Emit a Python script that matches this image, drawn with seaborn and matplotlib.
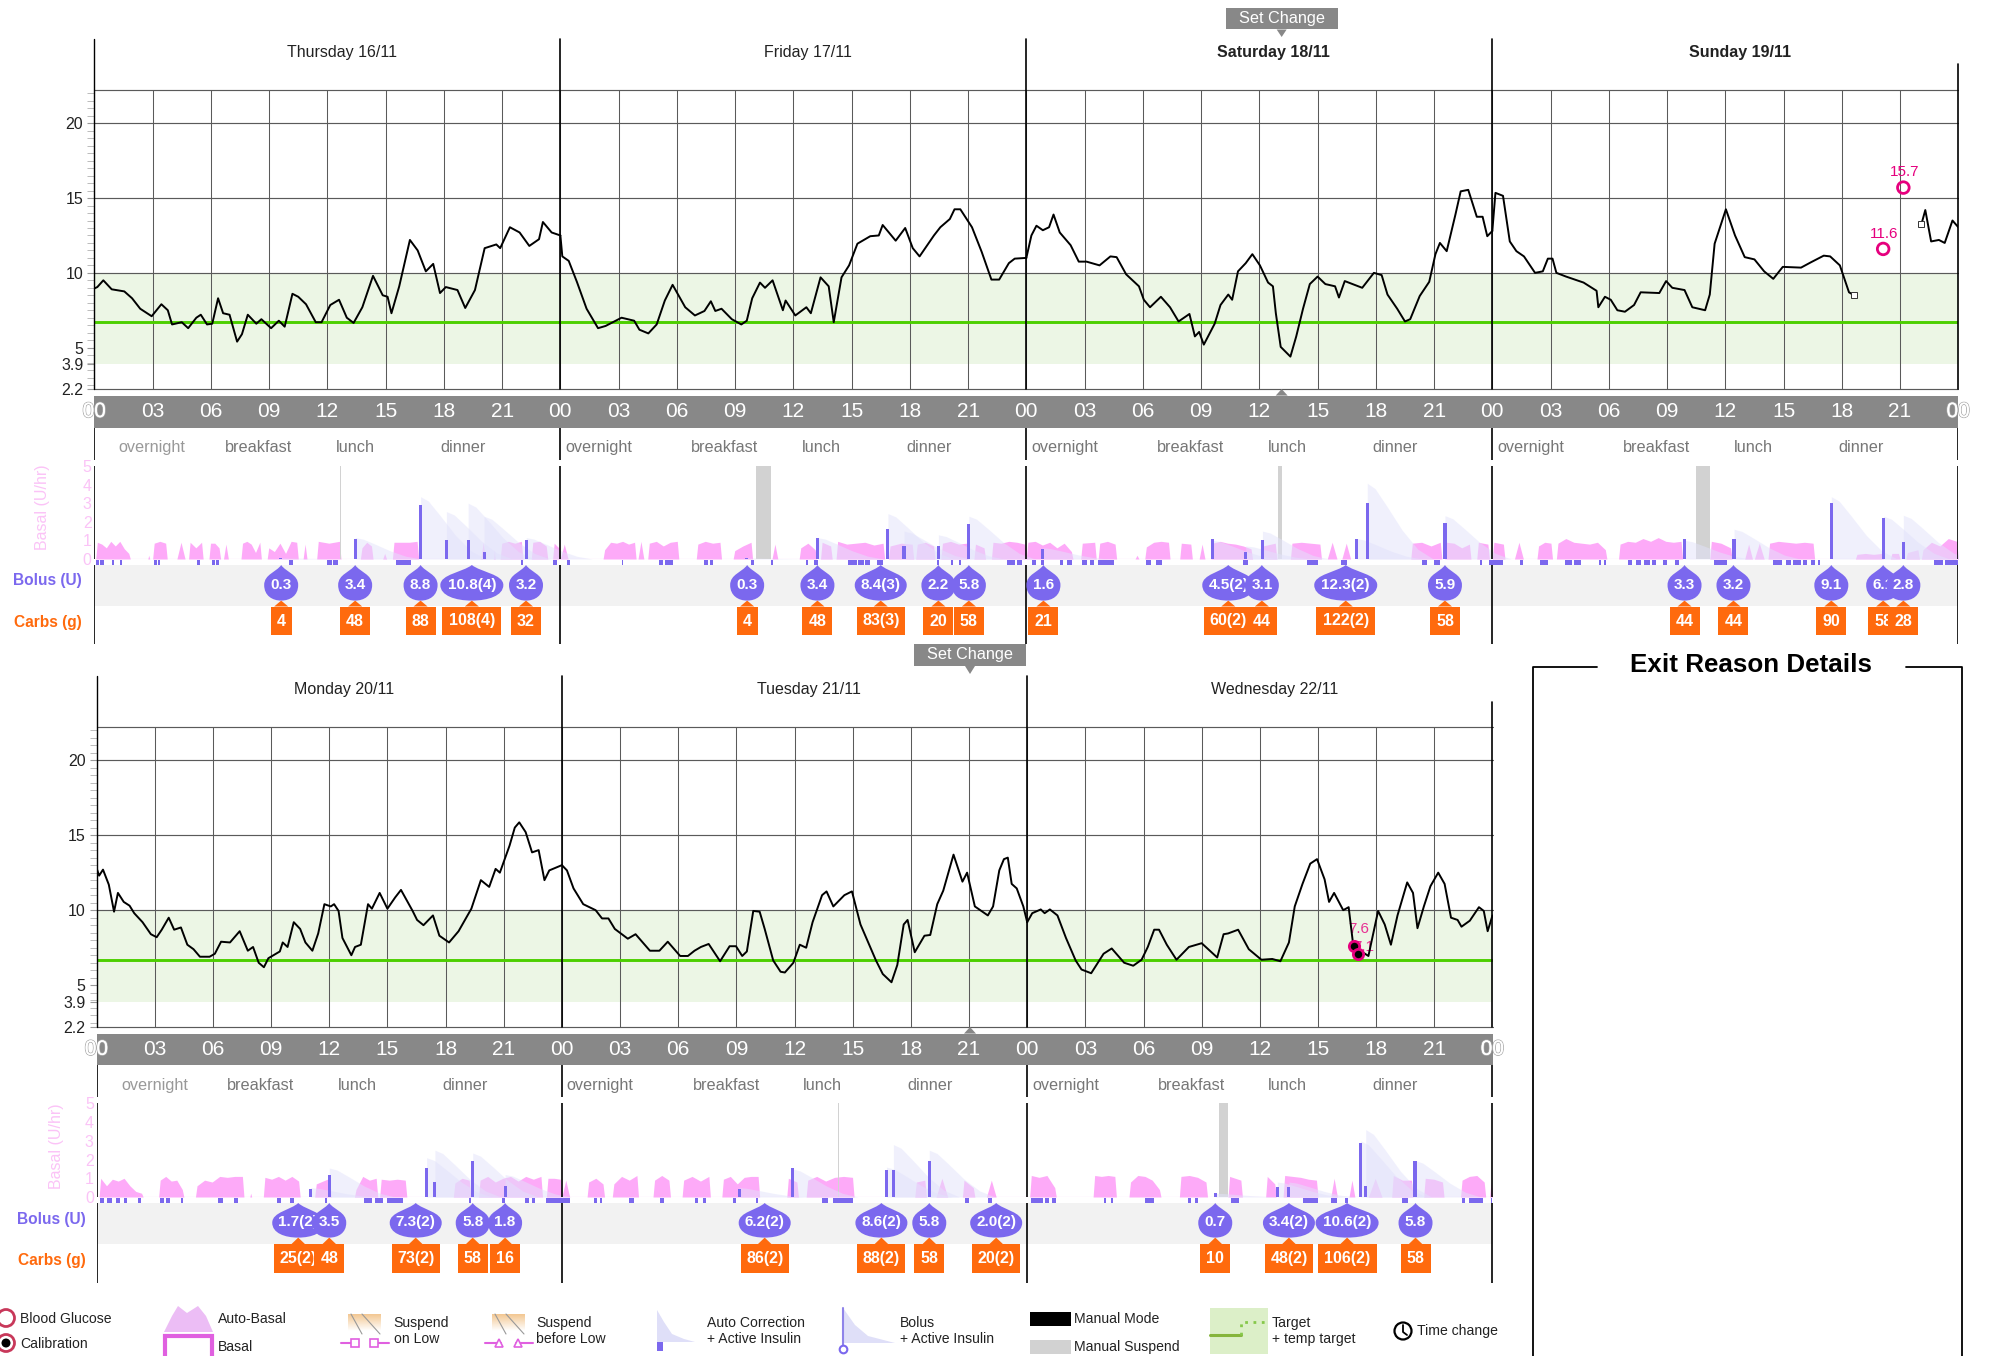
import numpy as np
import pandas as pd
import matplotlib
matplotlib.use("Agg")
import matplotlib.pyplot as plt
from matplotlib.patches import PathPatch, Rectangle, Polygon, Circle
from matplotlib.path import Path
from matplotlib import patheffects as pe
import seaborn as sns

# ------------------------------------------------------------------ data
DAY_NAMES = ["Thursday 16/11", "Friday 17/11", "Saturday 18/11", "Sunday 19/11",
             "Monday 20/11", "Tuesday 21/11", "Wednesday 22/11"]
BOLD_DAYS = ["Saturday 18/11", "Sunday 19/11"]
MEALS = ["overnight", "breakfast", "lunch", "dinner"]
MEAL_HOURS = [1.98, 8.47, 13.44, 19.0]
Y_TICKS = [2.2, 3.9, 5, 10, 15, 20]
Y_TICK_LABELS = ["2.2", "3.9", "5", "10", "15", "20"]
Y_GRID = [2.2, 10, 15, 20, 22.2]
TARGET = 6.7
BAND = (3.9, 10.0)

THU_T = [0,.15,.46,.89,1.54,1.94,2.36,2.95,3.45,3.78,4.0,4.5,4.83,5.25,5.48,5.8,6.07,6.37,6.63,6.96,7.35,7.6,7.9,8.34,8.6,9.1,9.5,9.8,10.2,10.5,10.9,11.4,11.7,12.15,12.6,13.0,13.35,13.8,14.35,14.85,15.1,15.3,15.7,16.25,16.65,17.07,17.45,17.8,18.1,18.7,19.1,19.6,20.1,20.7,20.9,21.4,21.9,22.4,22.9,23.1,23.55,24]
THU_G = [8.96,9.05,9.5,8.9,8.76,8.3,7.6,7.1,7.9,7.5,6.55,6.7,6.3,7.0,7.2,6.55,6.6,8.3,7.3,7.2,5.4,5.9,7.2,6.6,6.9,6.3,6.8,6.4,8.6,8.4,7.9,6.7,6.7,7.85,8.2,7.0,6.65,7.7,9.8,8.5,8.4,7.3,9.1,12.2,11.5,10.1,10.6,8.65,9.05,8.85,7.65,8.85,11.65,11.9,11.65,13.05,12.7,11.8,12.25,13.4,12.7,12.5]
FRI_T = [0,.1,.43,.85,1.35,1.94,2.33,3.15,3.8,4.07,4.53,4.96,5.38,5.78,6.43,6.93,7.42,7.75,7.98,8.3,8.83,9.32,9.6,9.88,10.28,10.54,10.93,11.46,11.6,12.1,12.67,12.9,13.4,13.82,14.08,14.48,14.87,15.3,15.96,16.4,16.6,17.27,17.76,18.15,18.5,19.24,19.57,20.06,20.3,20.6,21.2,21.7,22.2,22.6,23.1,23.4,24]
FRI_G = [12.5,11.1,10.8,9.4,7.6,6.3,6.45,7.0,6.8,6.2,5.95,6.55,8.15,9.2,7.7,7.15,7.45,8.1,7.45,7.6,6.9,6.55,6.8,8.3,9.35,9.0,9.5,7.5,8.15,7.15,7.7,7.3,9.7,9.1,6.7,9.7,10.5,11.95,12.45,12.5,13.2,12.15,13.0,11.65,11.1,12.5,13.05,13.6,14.25,14.25,13.05,11.4,9.55,9.55,10.65,10.95,11.0]
SAT_T = [0,.26,.52,.85,1.17,1.4,1.72,2.28,2.7,3.1,3.77,4.33,4.65,5.14,5.8,6.05,6.37,6.93,7.4,7.84,8.4,8.68,8.9,9.14,9.7,10.0,10.4,10.6,10.9,11.3,11.64,12.03,12.45,12.7,12.85,13.1,13.6,13.9,14.25,14.6,15.0,15.4,15.9,16.1,16.4,17.3,17.9,18.3,18.6,19.1,19.5,19.77,20.26,20.75,21.07,21.3,21.65,22.1,22.37,22.76,23.2,23.5,23.74,24]
SAT_G = [11.0,12.5,13.15,12.85,13.05,13.9,12.7,11.85,10.75,10.75,10.5,11.1,11.05,9.9,9.1,8.2,7.7,8.4,7.7,6.75,7.25,5.75,6.05,5.2,6.6,7.85,8.55,8.2,10.1,10.65,11.25,10.5,9.35,9.1,7.3,5.05,4.4,5.75,7.6,9.25,9.75,9.25,9.1,8.35,9.45,9.0,10.0,9.85,8.55,7.6,6.75,6.9,8.45,9.4,11.25,12.0,11.45,13.9,15.45,15.55,13.75,13.75,12.45,12.8]
SUN_T = [0,.16,.55,.9,1.24,1.63,2.2,2.6,2.86,3.1,3.3,3.8,4.7,5.37,5.46,5.8,6.1,6.44,6.83,7.3,7.64,8.6,8.95,9.27,9.9,10.3,10.96,11.2,11.45,12.03,12.5,13.0,13.5,14.0,14.47,14.96,15.9,16.4,17.07,17.4,17.9,18.37,18.63]
SUN_G = [12.8,15.35,15.15,12.1,11.45,11.1,10.0,10.1,10.95,10.95,10.0,9.75,9.35,8.8,7.7,8.4,8.2,7.5,7.4,7.85,8.7,8.65,9.45,9.0,8.85,7.7,7.5,8.55,11.95,14.25,12.5,11.05,10.9,10.1,9.6,10.4,10.35,10.7,11.15,11.1,10.5,8.7,8.5]
SUN2_T = [22.1,22.3,22.6,23.0,23.3,23.7,24]
SUN2_G = [13.25,14.2,12.1,12.2,12.0,13.5,13.05]
MON_T = [0,.13,.33,.63,.9,1.1,1.4,1.7,1.94,2.37,2.8,3.1,3.36,3.72,4.0,4.35,4.68,5.0,5.33,5.83,6.1,6.42,6.88,7.38,7.8,8.07,8.36,8.63,8.86,9.45,9.6,9.85,10.17,10.5,10.77,11.13,11.43,11.75,12.08,12.25,12.48,12.68,13.14,13.33,13.63,14,14.2,14.6,15,15.4,15.7,16.3,16.53,16.86,17.35,17.68,18.18,18.67,19.33,19.82,20.25,20.58,20.8,21.3,21.57,21.8,22.13,22.46,22.8,23.1,23.35,24]
MON_G = [12.8,12.3,12.7,11.7,9.9,11.15,10.55,10.3,9.8,9.2,8.4,8.2,8.7,9.5,8.7,8.85,7.7,7.4,6.9,6.9,7.1,7.9,7.85,8.6,7.3,7.55,6.5,6.2,6.8,7.25,7.85,7.55,9.2,8.75,7.85,7.3,8.45,10.4,10.25,10.4,9.95,8.15,7.0,7.55,7.7,10.4,10.1,11.15,10.1,10.85,11.35,9.95,9.35,9.0,9.65,8.3,7.85,8.6,10.1,12.0,11.55,12.75,12.5,14.3,15.5,15.85,15.2,13.85,14.0,12.0,12.65,13.0]
TUE_T = [0,.26,.6,1.1,1.74,2.07,2.4,2.73,3.4,3.8,4.54,5.03,5.46,6.1,6.5,6.84,7.17,7.57,8.16,8.65,8.98,9.3,9.54,9.87,10.2,10.46,10.9,11.28,11.5,11.94,12.27,12.6,12.93,13.42,13.65,14.0,14.57,14.96,15.4,15.9,16.2,16.55,17,17.3,17.63,17.83,18.2,18.7,19.0,19.36,19.67,20.2,20.66,20.9,21.3,21.97,22.24,22.56,22.8,23,23.2,23.46,23.8,24]
TUE_G = [13,12.65,11.45,10.4,10,9.45,9.45,8.75,8.1,8.4,7.3,7.3,7.9,6.95,6.95,7.3,7.55,7.75,6.6,7.6,7.6,6.95,7.25,9.95,9.9,8.75,6.65,5.9,5.85,6.5,7.7,7.5,9.2,11.0,11.25,10.25,11.0,11.25,9.05,7.55,6.65,5.75,5.2,6.35,9.05,9.35,7.2,8.3,8.35,10.4,11.3,13.7,11.9,12.5,10.25,9.65,10.25,12.65,13.4,13.5,11.75,11.45,10.25,9.2]
WED_T = [0,.26,.7,.9,1.17,1.56,2,2.5,2.8,3.3,3.94,4.36,5,5.47,5.9,6.22,6.55,6.8,7.2,7.7,8.34,9,9.8,10.13,10.36,10.88,11.43,12.08,12.64,13.06,13.5,13.8,14.2,14.6,14.95,15.34,15.57,15.83,16.3,16.58,16.8,17.07,17.3,17.6,17.8,18.1,18.44,18.76,19.1,19.6,19.9,20.13,20.46,20.8,21.2,21.53,21.86,22.2,22.4,22.83,23.3,23.55,23.75,24]
WED_G = [9.2,9.8,10.05,9.8,10.05,9.65,8.15,6.65,6.05,5.8,7.1,7.45,6.5,6.3,6.7,7.55,8.7,8.7,7.7,6.7,7.55,7.8,6.85,8.4,8.45,8.7,7.4,6.7,6.75,6.6,7.85,10.25,11.75,13.1,13.4,12.05,10.55,11.15,10,10.2,7.85,7.25,7.2,6.95,8.15,9.95,9.05,7.7,9.65,11.85,11.15,8.8,10.25,11.6,12.5,11.75,9.5,9.35,8.9,9.3,10.2,9.95,8.6,9.65]

BG_HOURS = [3*24+20.13, 3*24+21.17]
BG_VALUES = [11.6, 15.7]
CAL_HOURS = [2*24+16.87, 2*24+17.07]
CAL_VALUES = [7.6, 7.1]

# (start hour, end hour, heights across the hump) per day
THU_BASAL = [(.07,1.85,[.9,.8,.6,.95,.7,.95,.55,.3]),(2.75,2.85,[.2]),(3.0,3.75,[.85,.95,.85]),(4.25,4.67,[.9]),(4.85,5.6,[.9,.6,.9]),(5.9,6.5,[.85,.85,.6]),(6.65,6.9,[.8]),(7.55,8.6,[.85,.95,.8,.35,.9]),(8.9,10.5,[.6,.4,.85,.3,.95,.9]),(10.75,10.95,[.8]),(11.45,12.7,[.95,.85,.95]),(13.7,14.35,[.6,.9,.7]),(14.85,15.05,[.3]),(15.35,16.7,[.9,.9,.9,.95]),(19.9,20.15,[.9]),(20.55,20.65,[.5]),(20.9,22.07,[.85,.95,.85,.95]),(22.5,23.35,[.9,.95,.7]),(23.6,24,[.85,.6])]
FRI_BASAL = [(0,.4,[.8]),(2.2,3.9,[.5,.9,.85,.95,.8,.9]),(4.0,4.3,[.95]),(4.5,6.1,[.85,.95,.7,.9,.95]),(7.0,8.3,[.8,.95,.85,.9]),(8.9,9.9,[.45,.7,.9]),(10.9,11.2,[.8]),(12.3,13.2,[.6,.85,.5]),(13.4,14.0,[.9,.7]),(14.2,16.7,[.95,.8,.85,.9,.75,.85]),(16.9,18.2,[.7,.85,.8]),(18.3,19.3,[.8,.9,.7]),(19.6,21.0,[.85,.95,.8,.85]),(21.3,21.9,[.8,.6]),(22.2,24,[.9,.85,.95,.9,.8])]
SAT_BASAL = [(0,2.4,[.9,.95,.75,.9,.6,.85,.4]),(2.8,3.6,[.85,.9]),(3.7,4.65,[.85,.95,.8]),(5.6,5.8,[.2]),(6.1,7.4,[.65,.9,.95,.9]),(7.9,8.55,[.85,.8]),(8.9,9.2,[.8]),(9.5,11.65,[.85,.95,.85,.8,.7,.55]),(12.1,12.9,[.7,.85]),(13.6,15.2,[.85,.9,.85,.8]),(15.5,16.0,[.9]),(16.25,16.7,[.85]),(19.8,21.4,[.85,.9,.7,.9]),(21.55,22.9,[.9,.85,.6,.8]),(23.2,23.85,[.9,.8])]
SUN_BASAL = [(0,.65,[.9,.8]),(1.14,1.6,[.9]),(2.3,3.1,[.7,.9,.85]),(3.3,5.9,[.85,1.1,.9,.85,.8,.9,.5]),(6.5,9.8,[.8,.95,.9,1.1,.95,1.15,.95,.9,.95]),(11.2,12.35,[.95,.85,.6]),(13.0,13.4,[.8]),(13.5,14.0,[.85]),(14.2,16.6,[.85,.95,.9,.85,.9,.85]),(18.7,20.15,[.25,.3,.25,.3]),(20.5,21.0,[.3,.3]),(21.3,22.0,[.35,.5]),(22.1,24,[.5,.9,.7,1.1,.95])]
MON_BASAL = [(.13,2.4,[1.0,.6,.95,.85,1.0,.6,.3,.2]),(3.2,4.5,[.9,1.1,.85,.9,.4]),(5.1,7.6,[.6,.9,.8,1.1,1.05,1.1,1.1]),(7.9,8.0,[.2]),(8.6,10.5,[1.05,.95,1.1,.9,1.1,.85]),(11.25,12.1,[.7,1.0]),(13.3,14.5,[.4,1.1,.9,1.0]),(14.6,16.0,[.95,.9,.95,.9]),(18.4,19.3,[.75,1.0,.9]),(19.7,23.0,[.9,1.1,.8,1.0,1.1,.85,1.1,.95,1.1]),(23.2,24,[1.0,1.0,.95])]
TUE_BASAL = [(0,.4,[.9]),(1.3,2.2,[.8,1.0,.7]),(2.6,3.95,[.7,1.1,.9,1.15]),(4.7,5.6,[.9,1.15,.9]),(6.2,7.66,[.9,1.1,.85,1.1]),(8.25,10.2,[.95,1.1,.7,1.05,1.1,1.1]),(11.6,12.2,[1.0,.8]),(12.6,15.07,[.9,1.1,.85,1.05,1.1,1.05]),(18.2,18.8,[.8,.9]),(19.3,19.9,[1.0]),(20.66,21.3,[.9,.5]),(21.9,22.4,[.9])]
WED_BASAL = [(.13,1.5,[1.15,1.05,1.15,.5]),(3.4,4.6,[1.15,1.1,1.15,1.1]),(5.25,6.9,[.8,1.15,1.1,.9,.4]),(7.85,9.3,[1.1,1.15,1.05,.8]),(10.36,11.1,[1.1,.9]),(12.3,12.85,[1.1,.7]),(13.2,15.0,[1.15,1.1,1.05,.95,.9]),(15.66,16.0,[1.0]),(16.6,16.9,[.9]),(17.6,18.3,[1.0]),(18.8,19.9,[1.15,.9,.9]),(20.45,21.5,[1.0,.95,.8]),(22.35,23.65,[.9,1.1,1.15,.8]),(23.85,24,[.8])]

# small insulin pulses under the basal track (start hour, end hour)
THU_PULSE = [(.1,.25),(.3,.5),(.9,1.0),(1.3,1.43),(3.05,3.2),(3.28,3.4),(5.3,5.45),(6.07,6.2),(6.28,6.43),(10.03,10.25),(11.98,12.25),(12.3,12.57),(15.55,16.3),(21.98,22.07),(23.64,23.82)]
FRI_PULSE = [(.36,.5),(3.15,3.25),(5.1,5.3),(5.4,5.8),(7.4,7.6),(7.7,7.85),(9.8,9.95),(10.85,10.95),(12.67,12.77),(13.05,13.25),(14.8,15.3),(15.35,15.65),(15.7,15.95),(16.3,16.6),(19.4,19.5),(20.1,20.2),(20.55,20.65),(23.0,23.4),(23.5,23.77)]
SAT_PULSE = [(.3,.5),(.75,.9),(1.72,1.9),(2.1,2.37),(2.86,3.1),(3.3,3.5),(3.7,4.5),(6.18,6.4),(6.7,7.0),(11.15,11.4),(14.47,15.0),(16.2,16.5),(20.4,20.65),(21.0,21.3),(23.35,23.45),(23.85,24)]
SUN_PULSE = [(0,.55),(1.45,1.6),(2.44,2.86),(3.74,4.1),(4.2,4.55),(5.5,5.6),(5.75,5.85),(7.0,7.2),(7.4,7.65),(7.8,8.1),(8.2,8.45),(8.8,9.0),(9.4,9.6),(11.4,12.1),(14.47,14.9),(15.1,15.4),(15.5,15.9),(16.0,16.2),(16.4,16.6),(16.75,16.9),(22.76,23.2),(23.3,24)]
MON_PULSE = [(.16,.4),(.55,.8),(1.0,1.2),(1.4,1.55),(2.15,2.27),(3.26,3.5),(3.6,3.8),(4.35,4.45),(6.25,6.5),(7.1,7.3),(9.3,9.5),(10.0,10.2),(11.8,11.9),(13.8,14.2),(14.35,14.75),(15.0,15.8),(19.2,19.33),(20.9,21.05),(22.1,22.3),(22.45,22.6),(23.2,24)]
TUE_PULSE = [(0,.4),(1.65,1.8),(1.95,2.07),(3.45,3.7),(5.05,5.25),(6.84,7.0),(7.3,7.43),(8.85,9.0),(10.0,10.1),(13.42,13.7),(14.0,15.0),(20.8,21.0),(22.0,22.2)]
WED_PULSE = [(.2,.8),(.9,1.1),(1.3,1.5),(3.94,4.05),(4.3,4.43),(6.1,6.55),(8.3,8.45),(8.65,8.8),(10.5,10.95),(14.2,15.0),(15.66,16.0),(16.4,16.55),(19.35,19.65),(22.45,22.6),(22.8,23.5),(23.9,24)]

# bolus: hour, delivered-bar height, active-insulin peak
THU_BOLUS = [(9.58,.05,.05),(13.44,1.1,1.15),(16.8,2.9,3.35),(18.13,1.0,2.55),(19.25,1.0,3.0),(20.07,.35,2.3),(22.24,1.0,1.15)]
FRI_BOLUS = [(9.6,.05,.05),(13.24,1.15,1.15),(16.87,1.6,2.44),(17.7,.7,1.5),(19.47,.7,1.3),(21.04,1.9,2.3)]
SAT_BOLUS = [(.85,.55,.6),(9.6,1.05,1.0),(11.3,.35,.7),(12.16,1.0,1.5),(17.0,1.05,1.1),(17.56,3.0,4.07),(21.56,1.95,2.33)]
SUN_BOLUS = [(9.9,1.05,1.0),(12.45,1.05,1.6),(17.46,3.0,3.35),(20.16,2.2,2.3),(21.17,.9,2.35)]
MON_BOLUS = [(11.03,.45,.5),(12.0,1.15,1.55),(17.02,1.55,2.1),(17.45,.8,2.5),(19.4,1.9,2.35),(21.07,.6,1.2)]
TUE_BOLUS = [(9.14,.45,.5),(11.88,1.55,1.5),(16.74,1.45,1.6),(17.1,1.45,2.8),(18.95,1.9,2.5)]
WED_BOLUS = [(9.7,.2,.2),(12.9,.55,.8),(13.5,.55,.8),(17.2,2.9,3.0),(17.46,.6,3.6),(20.0,1.9,1.95)]

# manual suspend spans
THU_SUSPEND = [(12.65,12.7)]
FRI_SUSPEND = [(10.05,10.87)]
SAT_SUSPEND = [(12.97,13.17),(17.88,17.92)]
SUN_SUSPEND = [(10.47,11.2)]
MON_SUSPEND = []
TUE_SUSPEND = [(14.24,14.28),(21.03,21.07)]
WED_SUSPEND = [(9.9,10.36)]

# meal boluses: hour, label
THU_DROPS = [(9.62,"0.3"),(13.43,"3.4"),(16.8,"8.8"),(19.44,"10.8(4)"),(22.23,"3.2")]
FRI_DROPS = [(9.62,"0.3"),(13.24,"3.4"),(16.5,"8.4(3)"),(19.47,"2.2"),(21.04,"5.8")]
SAT_DROPS = [(.88,"1.6"),(10.4,"4.5(2)"),(12.13,"3.1"),(16.45,"12.3(2)"),(21.56,"5.9")]
SUN_DROPS = [(9.9,"3.3"),(12.42,"3.2"),(17.46,"9.1"),(20.13,"6.1"),(21.17,"2.8")]
MON_DROPS = [(10.4,"1.7(2)"),(12.0,"3.5"),(16.46,"7.3(2)"),(19.4,"5.8"),(21.07,"1.8")]
TUE_DROPS = [(10.46,"6.2(2)"),(16.48,"8.6(2)"),(18.95,"5.8"),(22.4,"2.0(2)")]
WED_DROPS = [(9.7,"0.7"),(13.5,"3.4(2)"),(16.5,"10.6(2)"),(20.03,"5.8")]
THU_CARBS = [(9.62,"4"),(13.43,"48"),(16.8,"88"),(19.44,"108(4)"),(22.23,"32")]
FRI_CARBS = [(9.62,"4"),(13.24,"48"),(16.5,"83(3)"),(19.47,"20"),(21.04,"58")]
SAT_CARBS = [(.88,"21"),(10.4,"60(2)"),(12.13,"44"),(16.45,"122(2)"),(21.56,"58")]
SUN_CARBS = [(9.9,"44"),(12.42,"44"),(17.46,"90"),(20.13,"58"),(21.17,"28")]
MON_CARBS = [(10.4,"25(2)"),(12.0,"48"),(16.46,"73(2)"),(19.4,"58"),(21.07,"16")]
TUE_CARBS = [(10.46,"86(2)"),(16.48,"88(2)"),(18.95,"58"),(22.4,"20(2)")]
WED_CARBS = [(9.7,"10"),(13.5,"48(2)"),(16.5,"106(2)"),(20.03,"58")]

SET_CHANGE = [2*24+13.15, 24+21.05]
WEDGE_T = [0,.4,1,1.8,2.6,3.4]
WEDGE_F = [1,.93,.7,.38,.13,0]

# ------------------------------------------------------------------ style
FW, FH = 1990, 1356
sns.set_theme(style="white")
plt.rcParams["font.family"] = ["Liberation Sans", "DejaVu Sans"]
PURPLE = "#7b68ee"; ORANGE = "#ff6a0d"; PINK = "#fdaaf8"; GREY = "#888888"
fig = plt.figure(figsize=(FW/100, FH/100), dpi=100, facecolor="white")

def add(x0, y0, x1, y1, **kw):
    return fig.add_axes([x0/FW, 1-y1/FH, (x1-x0)/FW, (y1-y0)/FH], **kw)

def blank(ax):
    ax.set_xticks([]); ax.set_yticks([])
    for s in ax.spines.values():
        s.set_visible(False)
    ax.patch.set_alpha(0)

def drop(ax, x, w, tip, cy, bot, z):
    H = bot - tip
    verts = [(x,tip),(x+.14*w,tip+.2*H),(x+.5*w,tip+.26*H),(x+.5*w,cy),
             (x+.5*w,cy+.3*H),(x+.26*w,bot),(x,bot),
             (x-.26*w,bot),(x-.5*w,cy+.3*H),(x-.5*w,cy),
             (x-.5*w,tip+.26*H),(x-.14*w,tip+.2*H),(x,tip)]
    codes = [Path.MOVETO]+[Path.CURVE4]*12
    ax.add_patch(PathPatch(Path(verts,codes),fc=PURPLE,ec="none",zorder=z,clip_on=False))

def draw_row(L, R, names, traces, basal, pulses, bolus, suspend, drops, carbs, g):
    n = len(names); span = 24*n; ph = (R-L)/span
    days = [24*i for i in range(n+1)]
    # glucose panel
    ax = add(L, g["grid_top"], R, g["grid_bot"])
    ax.set_xlim(0, span); ax.set_ylim(2.2, 22.2)
    for s in ax.spines.values():
        s.set_visible(False)
    ax.axhspan(BAND[0], BAND[1], color="#ecf6e5", lw=0, zorder=1)
    ax.set_xticks([])
    for h in np.arange(0, span, 3):
        ax.axvline(h, color="#5a5a5a", lw=.75, zorder=2)
    for v in Y_GRID:
        ax.axhline(v, color="#5a5a5a", lw=.85, zorder=2, clip_on=False)
    ax.set_yticks(Y_TICKS); ax.set_yticklabels(Y_TICK_LABELS)
    ax.set_yticks(np.arange(2.5, 22.5, .5), minor=True)
    ax.axhline(TARGET, color="#4ccf00", lw=2.1, zorder=3)
    ax.tick_params(axis="y", which="major", length=5, width=.8, color="#999999", labelsize=11.5, labelcolor="#222222", pad=3)
    ax.tick_params(axis="y", which="minor", length=5, width=.7, color="#bbbbbb", left=True)
    ax.tick_params(axis="y", which="both", left=True)
    for i, h in enumerate(days):
        top = g["day_top"] if i < n else g["end_top"]
        ax.axvline(h, ymin=0, ymax=1+(g["grid_top"]-top)/(g["grid_bot"]-g["grid_top"]),
                   color="black", lw=1.2 if i else 1.0, clip_on=False, zorder=4)
    for i, name in enumerate(names):
        yy = 22.2 + (g["grid_top"]-g["day_y"])*20/(g["grid_bot"]-g["grid_top"])
        ax.text(24*i+12.75, yy, name, ha="center", va="center", fontsize=11.5, color="#222222",
                fontweight="bold" if name in BOLD_DAYS else "normal")
    for (day, t, v) in traces:
        df = pd.DataFrame({"t": np.array(t)+24*day, "g": v})
        sns.lineplot(data=df, x="t", y="g", ax=ax, color="black", lw=1.4, estimator=None,
                     sort=False, legend=False, zorder=5)
    ax.set_xlabel(""); ax.set_ylabel("")
    ax.set_xlim(0, span); ax.set_ylim(2.2, 22.2)

    # time bar
    tb = add(L, g["bar_top"], R, g["bar_bot"], facecolor=GREY)
    tb.set_xlim(0, span); tb.set_ylim(0, 1); tb.set_xticks([]); tb.set_yticks([])
    for s in tb.spines.values():
        s.set_visible(False)
    for h in list(np.arange(0, span, 3))+[span]:
        t = tb.text(h, .5, f"{int(h)%24:02d}", ha="center", va="center", color="white",
                    fontsize=15, clip_on=False, zorder=5)
        if h == 0 or h == span:
            t.set_path_effects([pe.withStroke(linewidth=1.2, foreground="#aaaaaa"), pe.Normal()])

    # meal labels
    ms = add(L, g["bar_bot"], R, g["meal_end"]); blank(ms)
    ms.set_xlim(0, span); ms.set_ylim(g["meal_end"], g["bar_bot"])
    ms.vlines(days, g["bar_bot"], g["meal_end"], color="black", lw=1.2)
    for i in range(n):
        for j, (m, mh) in enumerate(zip(MEALS, MEAL_HOURS)):
            hh = mh + (1.0 if (i == 0 and j == 0) else 0)
            ms.text(24*i+hh, g["meal_y"]+5, m, ha="center", va="baseline", fontsize=11.7,
                    color="#999999" if j == 0 and i == 0 else "#777777")

    # basal panel
    b = add(L, g["basal_top"], R, g["zero"]); b.patch.set_alpha(0)
    b.set_xlim(0, span); b.set_ylim(0, 5); b.set_xticks([])
    for s in b.spines.values():
        s.set_visible(False)
    b.set_yticks(range(6))
    b.tick_params(axis="y", length=0, labelsize=11.5, labelcolor="#fbc3f7", pad=2)
    b.vlines(days, 0, 5, color="black", lw=1.2, zorder=6)
    for i in range(n):
        for (s, e, hs) in basal[i]:
            r = min(.08, (e-s)/4)
            xs = [s]+list(np.linspace(s+r, e-r, len(hs)) if len(hs) > 1 else [(s+e)/2])+[e]
            ys = [0]+list(hs)+[0]
            b.fill_between(np.array(xs)+24*i, ys, color=PINK, lw=0, zorder=2)
        for (s, e) in suspend[i]:
            b.axvspan(24*i+s, 24*i+e, color="#d2d2d2", lw=0, zorder=3)
        for (h, ht, pk) in bolus[i]:
            b.fill_between(24*i+h+np.array(WEDGE_T), pk*np.array(WEDGE_F), color="#e2e2fb",
                           alpha=.5, lw=0, zorder=3, clip_on=True)
        for (h, ht, pk) in bolus[i]:
            b.bar(24*i+h, ht, width=.16, color=PURPLE, zorder=5, lw=0)
        for (s, e) in pulses[i]:
            b.bar(24*i+s, -.27, width=e-s, bottom=-.05, align="edge", color=PURPLE, clip_on=False, lw=0, zorder=5)
    b.axhline(0, color=PINK, lw=.8, zorder=1)
    b.set_xlim(0, span); b.set_ylim(0, 5)

    # bolus / carbs tracks
    tr = add(L, g["band_top"], R, g["track_bot"]); blank(tr)
    tr.set_xlim(0, span); tr.set_ylim(g["track_bot"], g["band_top"])
    tr.axhspan(g["band_top"], g["band_bot"], color="#f2f2f2", lw=0, zorder=1)
    tr.vlines(days, g["band_top"], g["track_bot"], color="black", lw=1.2, zorder=2)
    z = 3
    for i in range(n):
        for (h, lab) in drops[i]:
            w = {3:34, 6:52, 7:63}.get(len(lab), 34)/ph
            drop(tr, 24*i+h, w, g["band_top"], g["cy"], g["drop_bot"], z)
            tr.text(24*i+h, g["cy"]-.5, lab, ha="center", va="center", color="white",
                    fontsize=11, fontweight="bold", zorder=z+.1)
            z += 1
    for i in range(n):
        for (h, lab) in carbs[i]:
            w = {1:21, 2:30, 5:48, 6:59}.get(len(lab), 30)/ph
            x = 24*i+h
            tr.add_patch(Rectangle((x-w/2, g["carb_top"]), w, g["carb_bot"]-g["carb_top"], fc=ORANGE, ec="none", zorder=z))
            tr.add_patch(Polygon([(x-7/ph, g["carb_top"]), (x, g["drop_bot"]), (x+7/ph, g["carb_top"])], fc=ORANGE, ec="none", zorder=z))
            tr.text(x, g["carb_top"]+14.5, lab, ha="center", va="center", color="white",
                    fontsize=11.5, fontweight="bold", zorder=z+.1)
            z += 1
    return ax, ph

G1 = dict(day_top=38.7, end_top=64.4, day_y=52.5, grid_top=90.4, grid_bot=389.5, bar_top=395.6, bar_bot=427.6,
          meal_y=447.4, meal_end=459.6, basal_top=466, zero=559, band_top=565, band_bot=606, track_bot=644,
          cy=585, drop_bot=600.6, carb_top=606.5, carb_bot=634.7)
G2 = dict(day_top=676.1, end_top=701.8, day_y=689.3, grid_top=727, grid_bot=1027.3, bar_top=1033.6, bar_bot=1065.1,
          meal_y=1085, meal_end=1097, basal_top=1103.4, zero=1197, band_top=1203, band_bot=1243.5, track_bot=1282.6,
          cy=1222.7, drop_bot=1237.6, carb_top=1244.3, carb_bot=1273)

L1, R1, L2, R2 = 94.4, 1958.3, 96.6, 1492.5
ax1, ph1 = draw_row(L1, R1, DAY_NAMES[:4],
    [(0,THU_T,THU_G),(1,FRI_T,FRI_G),(2,SAT_T,SAT_G),(3,SUN_T,SUN_G),(3,SUN2_T,SUN2_G)],
    [THU_BASAL,FRI_BASAL,SAT_BASAL,SUN_BASAL],[THU_PULSE,FRI_PULSE,SAT_PULSE,SUN_PULSE],
    [THU_BOLUS,FRI_BOLUS,SAT_BOLUS,SUN_BOLUS],[THU_SUSPEND,FRI_SUSPEND,SAT_SUSPEND,SUN_SUSPEND],
    [THU_DROPS,FRI_DROPS,SAT_DROPS,SUN_DROPS],[THU_CARBS,FRI_CARBS,SAT_CARBS,SUN_CARBS],G1)
ax2, ph2 = draw_row(L2, R2, DAY_NAMES[4:],
    [(0,MON_T,MON_G),(1,TUE_T,TUE_G),(2,WED_T,WED_G)],
    [MON_BASAL,TUE_BASAL,WED_BASAL],[MON_PULSE,TUE_PULSE,WED_PULSE],
    [MON_BOLUS,TUE_BOLUS,WED_BOLUS],[MON_SUSPEND,TUE_SUSPEND,WED_SUSPEND],
    [MON_DROPS,TUE_DROPS,WED_DROPS],[MON_CARBS,TUE_CARBS,WED_CARBS],G2)

# end-of-gap squares, fingersticks and calibrations
ax1.plot([3*24+SUN_T[-1], 3*24+SUN2_T[0]], [SUN_G[-1], SUN2_G[0]], ls="", marker="s", ms=4,
         mfc="white", mec="#333333", mew=.7, zorder=7)
sns.scatterplot(x=BG_HOURS, y=BG_VALUES, ax=ax1, s=70, facecolor="none", edgecolor="#e6007e", linewidth=2, zorder=8, legend=False)
for h, v in zip(BG_HOURS, BG_VALUES):
    ax1.annotate(f"{v}", (h, v), xytext=(1, 6), textcoords="offset points", ha="center", va="bottom", color="#e6007e", fontsize=11)
sns.scatterplot(x=CAL_HOURS, y=CAL_VALUES, ax=ax2, s=55, color="black", edgecolor="#e6007e", linewidth=2, zorder=8, legend=False)
for h, v, dx, dy in zip(CAL_HOURS, CAL_VALUES, [3, 4], [7, 0]):
    ax2.annotate(f"{v}", (h, v), xytext=(dx, dy), textcoords="offset points", ha="center", va="bottom", color="#e6007e", fontsize=11, alpha=.8)
for a in (ax1, ax2):
    a.set_xlabel(""); a.set_ylabel("")

# ------------------------------------------------------------------ overlay: furniture in pixels
ov = fig.add_axes([0,0,1,1], zorder=20); blank(ov)

def T(x, y, s, **kw):
    kw.setdefault("fontsize", 10.1); kw.setdefault("color", "#222222"); kw.setdefault("va", "center")
    ov.text(x, y, s, **kw)

# side labels
for yb, yc, yr, xb, xr in [(581,622,507,82,43),(1219.6,1260,1146,85.5,56)]:
    T(xb, yb, "Bolus (U)", ha="right", color=PURPLE, fontweight="bold", fontsize=11.2)
    T(xb, yc, "Carbs (g)", ha="right", color=ORANGE, fontweight="bold", fontsize=11.2)
    T(xr, yr, "Basal (U/hr)", ha="center", rotation=90, color="#fbc3f7", fontsize=11.5)

# set-change callouts
for hour, L, ph, by0, by1, tip, ty0, ty1 in [(SET_CHANGE[0], L1, ph1, 7.6, 29.5, 37, 389, 395.6),
                                             (SET_CHANGE[1], L2, ph2, 644, 666, 674, 1027, 1033.6)]:
    x = L + hour*ph
    ov.add_patch(Rectangle((x-56, by0), 112, by1-by0, fc=GREY, ec="none"))
    ov.add_patch(Polygon([(x-5, by1), (x+5, by1), (x, tip)], fc=GREY, ec="none"))
    ov.add_patch(Polygon([(x-6, ty1), (x+6, ty1), (x, ty0)], fc=GREY, ec="none"))
    T(x, (by0+by1)/2, "Set Change", ha="center", color="white", fontsize=11.7)

# exit reason frame
ov.plot([1597,1533,1533],[666.6,666.6,1356], color="black", lw=1.3)
ov.plot([1906,1962,1962],[666.6,666.6,1356], color="black", lw=1.3)
T(1751, 664.5, "Exit Reason Details", ha="center", fontsize=18.7, fontweight="bold", color="black")

# legend
ov.add_patch(Circle((6,1318), 8.5, fc="white", ec="#c8385a", lw=2))
ov.add_patch(Circle((6,1343), 8.5, fc="white", ec="#c8385a", lw=2))
ov.add_patch(Circle((6,1343), 4.5, fc="black", ec="none"))
T(20.5,1319,"Blood Glucose"); T(20.5,1343.5,"Calibration")
ov.add_patch(Polygon([(164,1332),(172,1316),(178,1306),(187,1313),(198,1306),(206,1316),(213,1332)], fc="#ecbdf5", ec="none"))
ov.add_patch(Rectangle((165,1336),47,40, fc="white", ec="#e060e0", lw=3))
T(218,1319,"Auto-Basal"); T(218,1347,"Basal")

def grad(x0,x1,y0,y1):
    im = np.linspace(0,1,32)[:,None]
    ov.imshow(im, extent=[x0,x1,y1,y0], aspect="auto", cmap=matplotlib.colors.LinearSegmentedColormap.from_list("o",["#f3c893","#ffffff"]), zorder=1)
for x0, mk, xt, l2 in [(348,"s",393.5,"on Low"),(492,"^",536,"before Low")]:
    grad(x0, x0+33, 1314, 1331)
    ov.plot([x0+3,x0+14],[1314,1334], color="#999999", lw=.8, zorder=2)
    ov.plot([x0+14,x0+32],[1314,1334], color="#999999", lw=.8, zorder=2)
    for xa, xb, xm in [(x0-7,x0+9,x0+7),(x0+24,x0+41,x0+26)]:
        ov.plot([xa,xb],[1343,1343], color="#e060e0", lw=1.5, zorder=2)
        ov.plot([xm],[1343], marker=mk, ms=5.5, mfc="white", mec="#e060e0", mew=1.2, ls="", zorder=3)
    T(xt,1323,"Suspend"); T(xt,1339,l2)
ov.add_patch(Polygon([(657,1310),(664,1322),(672,1334),(684,1339),(695,1342),(657,1342)], fc="#dfdff8", ec="none"))
ov.add_patch(Rectangle((657,1342),6,9, fc=PURPLE, ec="none"))
T(707,1323,"Auto Correction"); T(707,1339,"+ Active Insulin")
ov.add_patch(Polygon([(843,1308),(855,1325),(868,1336),(895,1343),(843,1343)], fc="#dfdff8", ec="none"))
ov.plot([843,843],[1308,1345], color="#8f84ea", lw=1.5)
ov.plot([843],[1349], marker="o", ms=5.5, mfc="white", mec=PURPLE, mew=1.5, ls="")
T(900,1323,"Bolus"); T(900,1339,"+ Active Insulin")
ov.add_patch(Rectangle((1030,1312),41,14, fc="black", ec="none"))
ov.add_patch(Rectangle((1030,1340),41,14, fc="#d2d2d2", ec="none"))
T(1074.5,1319,"Manual Mode"); T(1074.5,1347,"Manual Suspend")
ov.add_patch(Rectangle((1210,1308),58,46, fc="#dcefc8", ec="none"))
ov.plot([1210,1241],[1335,1335], color="#86b53c", lw=2.2)
ov.plot([1241,1241,1268],[1335,1322,1322], color="#86c84a", lw=2, ls=(0,(1,2)))
T(1272,1323,"Target"); T(1272,1339,"+ temp target")
ov.add_patch(Circle((1403,1331), 8.5, fc="white", ec="black", lw=1.6))
ov.plot([1403,1403,1407],[1325,1332,1335], color="black", lw=1.3)
T(1416.7,1331,"Time change")

ov.set_xlim(0,FW); ov.set_ylim(FH,0)
fig.savefig("out.png", dpi=100, facecolor="white")
